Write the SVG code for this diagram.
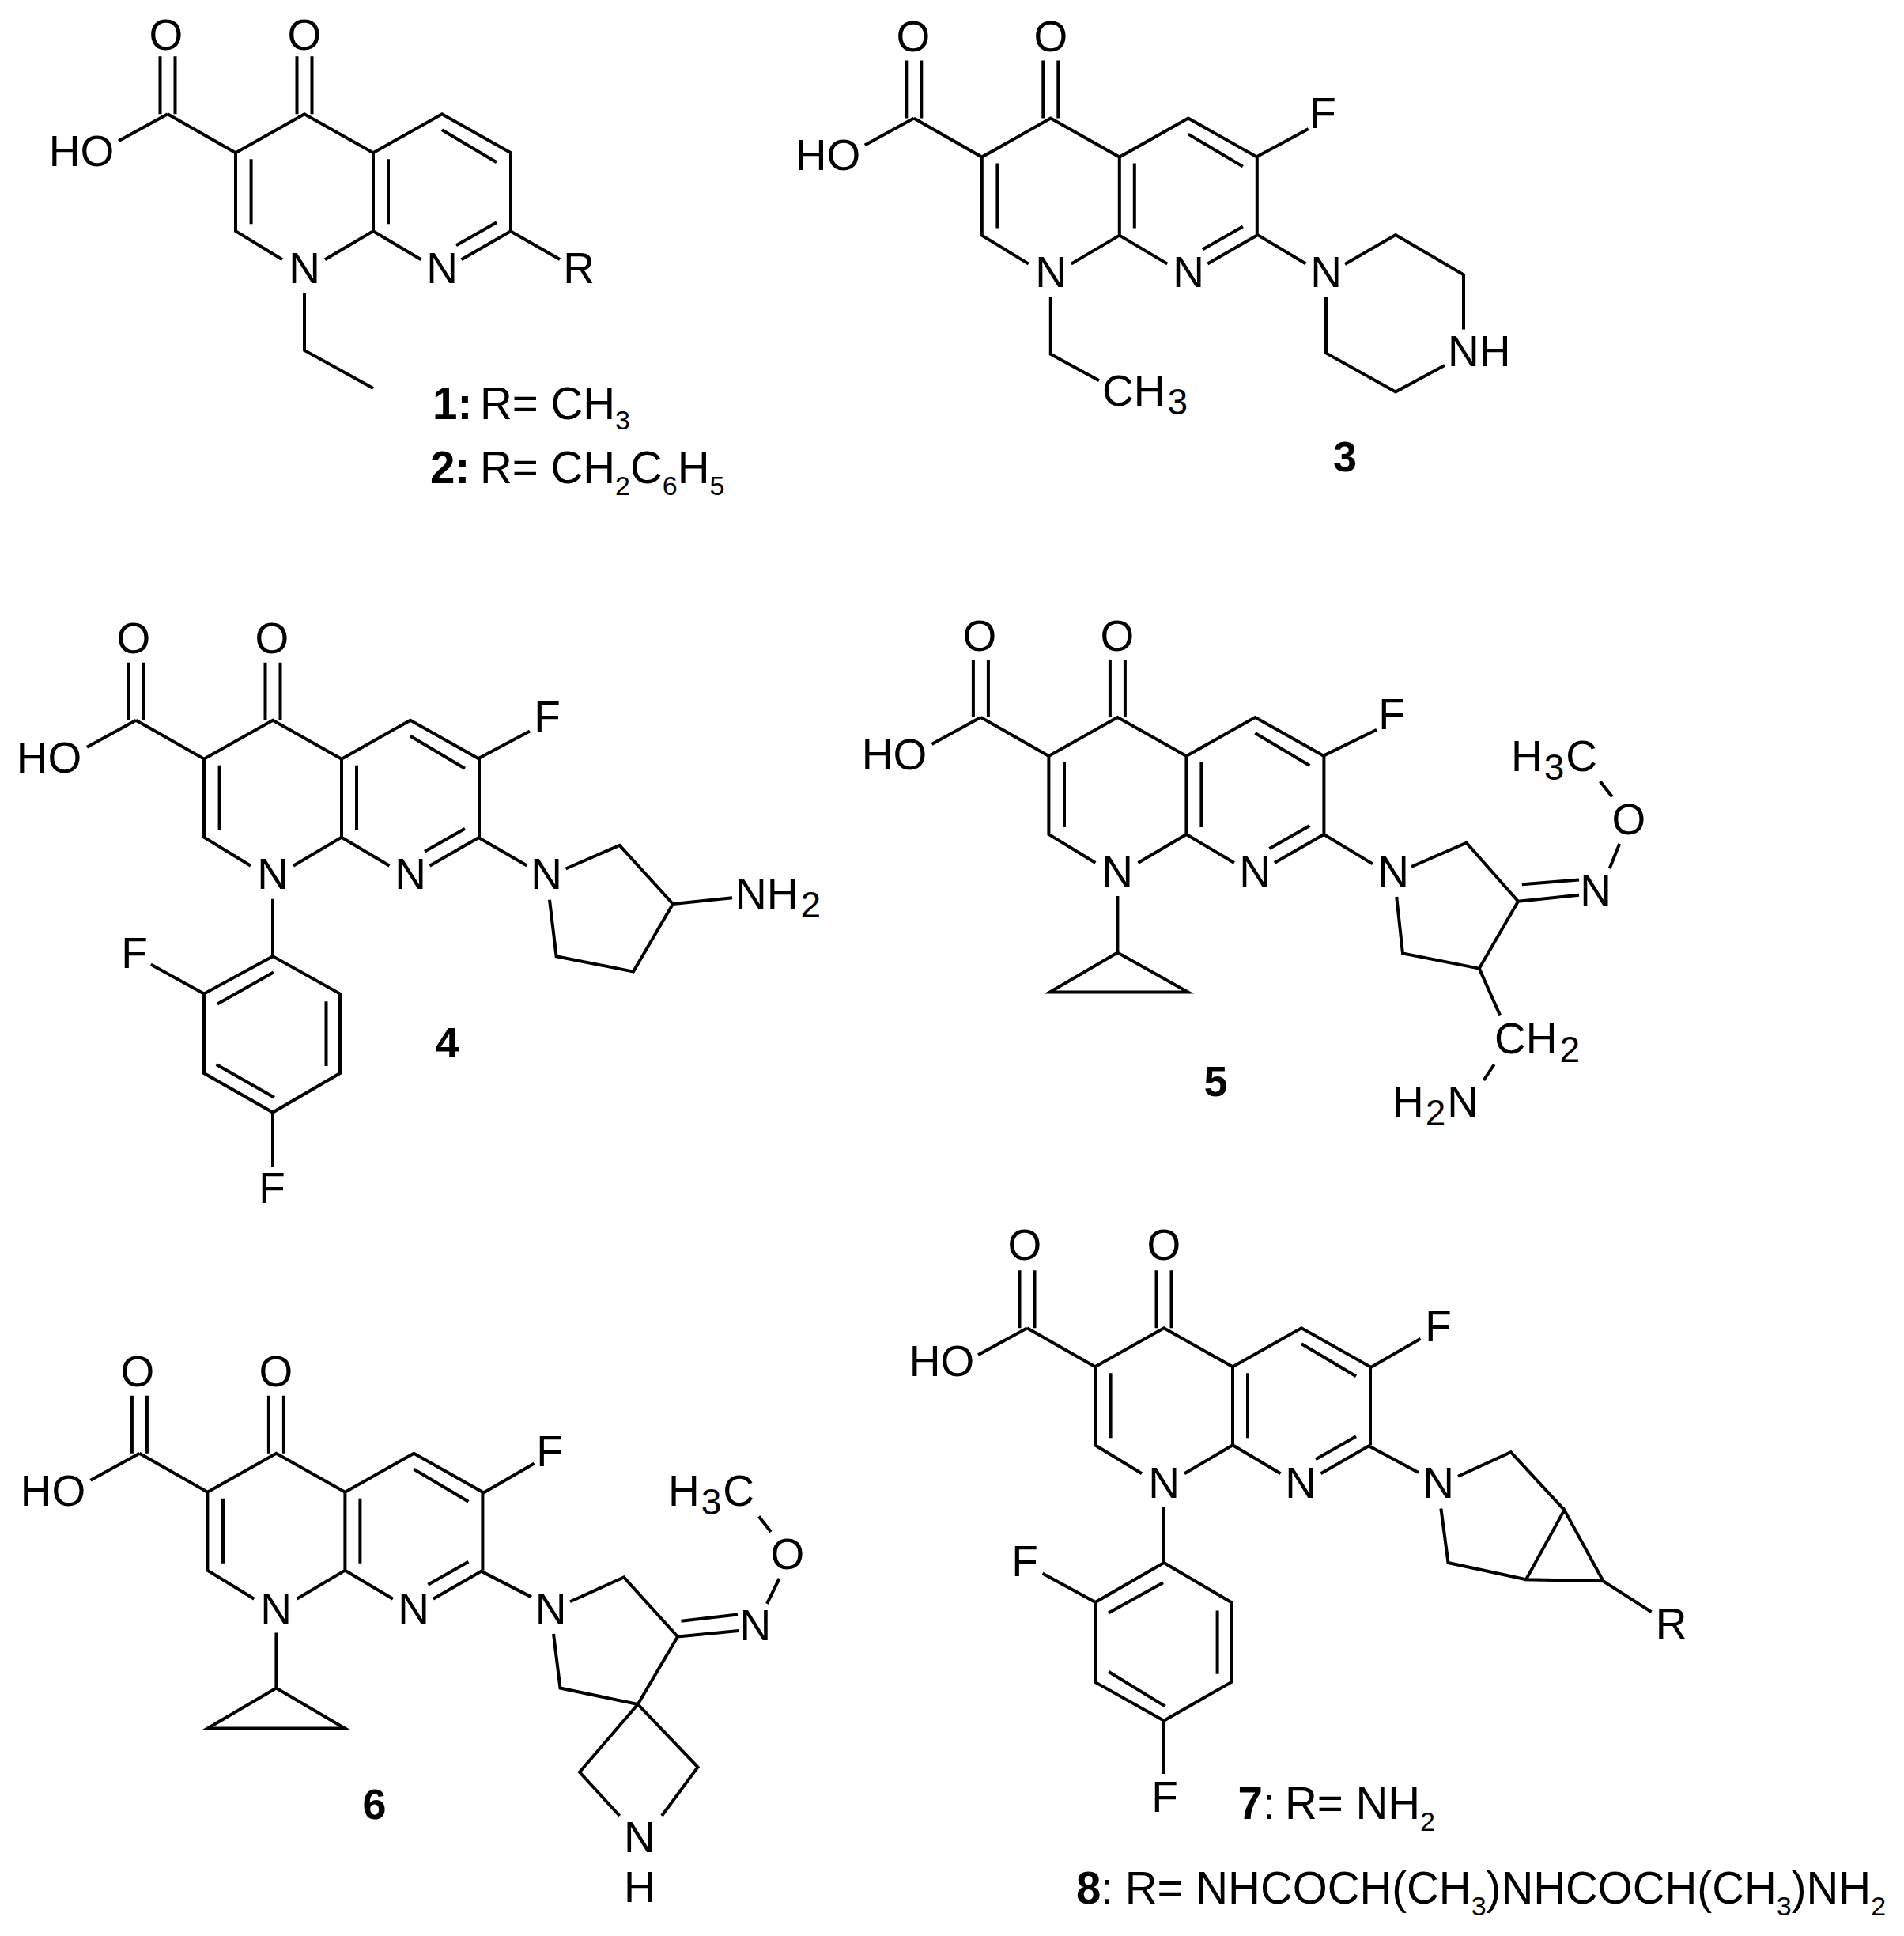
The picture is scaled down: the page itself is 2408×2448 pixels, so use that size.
<svg xmlns="http://www.w3.org/2000/svg" width="2408" height="2448" viewBox="0 0 2408 2448">
<style>
text{font-family:"Liberation Sans",Arial,sans-serif;fill:#000}
.a{font-size:55px;text-anchor:middle}
.l{font-size:55px}
.s{font-size:46px}
.t{font-size:56.500px}
.u{font-size:34px}
.b{font-weight:bold}
.n{font-size:54px;font-weight:bold;text-anchor:middle}
.bonds{fill:none;stroke:#000;stroke-width:4;stroke-linecap:butt;stroke-linejoin:miter}
</style>
<defs>
<path id="core" d="M-173 0L-87 49L0 0L87 49L174 0L261 49V148M-87 49V148L-28 184M87 49V148L26 184M87 148L147.500 184M198.500 184L261 148M192 166L243 137M-67.400 57V139M106 57V139M174 20L243 61M-173 0L-235 34M-182.500 -73V0M-163.500 -73V0M-9.500 -73V0M9.500 -73V0"/>
</defs>
<rect width="2408" height="2448" fill="#fff"/>

<g id="compound-1">
<use href="#core" class="bonds" transform="translate(385 144.200)"/>
<path class="bonds" d="M646 292.400L708 328M385 370.500V442.900L472 491"/>
<text class="a" x="210" y="63">O</text><text class="a" x="385" y="63">O</text>
<text class="a" x="103" y="210">HO</text>
<text class="a" x="385" y="358">N</text><text class="a" x="559" y="358">N</text><text class="a" x="732" y="358">R</text>
<text class="t" x="547" y="530"><tspan class="b">1:</tspan><tspan x="607">R= CH</tspan><tspan class="u" dy="13">3</tspan></text>
<text class="t" x="544" y="611"><tspan class="b">2:</tspan><tspan x="607">R= CH</tspan><tspan class="u" dy="15">2</tspan><tspan dy="-15">C</tspan><tspan class="u" dy="15">6</tspan><tspan dy="-15">H</tspan><tspan class="u" dy="15">5</tspan></text>
</g>

<g id="compound-3">
<use href="#core" class="bonds" transform="translate(1328.800 149.600)"/>
<path class="bonds" d="M1590.300 197.800L1654.700 163M1590.300 296.900L1651.500 333.500M1701 334L1765 297L1851 347.300V416.500M1677 375V446.400L1765 495.500L1827 462M1328.800 375V447.800L1390 481.300"/>
<text class="a" x="1155" y="65">O</text><text class="a" x="1329" y="65">O</text>
<text class="a" x="1047" y="215">HO</text>
<text class="a" x="1329" y="363">N</text><text class="a" x="1503" y="363">N</text><text class="a" x="1677" y="363">N</text>
<text class="a" x="1673" y="162">F</text>
<text class="l" x="1831" y="463">NH</text>
<text class="l" x="1394" y="513.400">CH<tspan class="s" dx="3" dy="11">3</tspan></text>
<text class="n" x="1701" y="596">3</text>
</g>

<g id="compound-4">
<use href="#core" class="bonds" transform="translate(345 910.700)"/>
<path class="bonds" d="M604.700 959.200L670 924.500M604.700 1058.700L666.400 1094.400M715.500 1098.500L783.600 1068.900L851 1142.900L801 1228.600L703.600 1209.200L695 1137.800M851 1142.900L926 1135.200M345 1136.700V1209.200L430 1256.600V1357L345 1406.600L258 1357V1256.600L345 1209.200M275 1269.400L345.800 1229.600M412.500 1266.300V1348M273.600 1346L347 1387.800M258 1256.600L190.800 1219.400M345 1406.600V1475.500"/>
<text class="a" x="169" y="826">O</text><text class="a" x="344" y="826">O</text>
<text class="a" x="62" y="977">HO</text>
<text class="a" x="345" y="1124">N</text><text class="a" x="519" y="1124">N</text><text class="a" x="691" y="1124">N</text>
<text class="a" x="692" y="924.500">F</text>
<text class="l" x="930" y="1149">NH<tspan class="s" dx="3" dy="11">2</tspan></text>
<text class="a" x="170" y="1223.500">F</text><text class="a" x="344" y="1521.400">F</text>
<text class="n" x="565.400" y="1336.700">4</text>
</g>

<g id="compound-5">
<use href="#core" class="bonds" transform="translate(1413.400 907)"/>
<path class="bonds" d="M1674.300 955.400L1741 922.800M1674.300 1055L1736 1092.400M1785 1096L1854.600 1065.600L1920 1139.700L1870.800 1224.600L1774 1205.400L1766.200 1134M1920 1139.700L1997 1131.700M1924.800 1118.300L1997 1112.500M2035.600 1098.200L2048.200 1067M2039 1007.600L2023.700 988M1870.800 1224.600L1897.400 1284.400M1889.700 1346L1876.400 1366M1413.400 1133V1204.500M1413.400 1204.500L1327.800 1254.500H1502.500Z"/>
<text class="a" x="1239" y="823">O</text><text class="a" x="1413" y="823">O</text>
<text class="a" x="1131" y="973">HO</text>
<text class="a" x="1413" y="1120.500">N</text><text class="a" x="1587" y="1120.500">N</text><text class="a" x="1762" y="1120.500">N</text>
<text class="a" x="1760" y="921.900">F</text>
<text class="a" x="2018" y="1145">N</text><text class="a" x="2060" y="1054.500">O</text>
<text class="l" x="1911" y="975.400">H<tspan class="s" dx="2" dy="11">3</tspan><tspan dx="2" dy="-11">C</tspan></text>
<text class="l" x="1890" y="1331.700">CH<tspan class="s" dx="3" dy="11">2</tspan></text>
<text class="l" x="1761" y="1412">H<tspan class="s" dx="2" dy="11">2</tspan><tspan dx="2" dy="-11">N</tspan></text>
<text class="n" x="1537.500" y="1386">5</text>
</g>

<g id="compound-6">
<use href="#core" class="bonds" transform="translate(349.400 1837.700)"/>
<path class="bonds" d="M610.300 1888.200L675.600 1850.400M610.300 1987.600L672 2019.400M721 2025.300L789 1994.400L857 2069.400L806.700 2155L708.500 2134.500L700 2066M857 2069.400L934.400 2062M861.500 2049.800L933 2041.500M970 2027.800L985.600 1996M975 1937L959.700 1917.500M783.600 2296L733 2240.800L806.700 2155L882.500 2234.400L837 2296M349.400 2064.500V2134.500M349.400 2134.500L262.400 2185.500H436.300Z"/>
<text class="a" x="174" y="1753">O</text><text class="a" x="349" y="1753">O</text>
<text class="a" x="67" y="1904">HO</text>
<text class="a" x="349" y="2053.200">N</text><text class="a" x="523" y="2053.200">N</text><text class="a" x="696.600" y="2053.200">N</text>
<text class="a" x="695" y="1853.900">F</text>
<text class="a" x="955.400" y="2074.300">N</text><text class="a" x="996" y="1983.700">O</text>
<text class="l" x="845" y="1904.300">H<tspan class="s" dx="2" dy="11">3</tspan><tspan dx="2" dy="-11">C</tspan></text>
<text class="a" x="808.800" y="2342">N</text><text class="a" x="808.800" y="2405">H</text>
<text class="n" x="473.500" y="2299.600">6</text>
</g>

<g id="compound-7-8">
<use href="#core" class="bonds" transform="translate(1472 1679.300)"/>
<path class="bonds" d="M1731.500 1730.200L1796.500 1692.800M1731.500 1828.600L1794 1862M1844 1866.700L1910.800 1836.200L1978.400 1909.400L1930 1997.200L1831.500 1976L1822.400 1907.600M1978.400 1909.400L2027.600 1999.300L1930 1997.200ZM2027.600 1999.300L2088.500 2038.200M1472 1905.900V1976.100L1557 2025.900V2127.200L1472 2175.800L1385.300 2127.200V2025.900L1472 1976.100M1402 2039.400L1471 2001.300M1539.600 2036.400V2116.700M1402 2113.700L1473.700 2157.600M1385.300 2025.900L1318.500 1989.600M1472 2175.800V2243"/>
<text class="a" x="1296" y="1593">O</text><text class="a" x="1472" y="1593">O</text>
<text class="a" x="1191" y="1740">HO</text>
<text class="a" x="1472" y="1894">N</text><text class="a" x="1645" y="1894">N</text><text class="a" x="1819" y="1894">N</text>
<text class="a" x="1819" y="1695.700">F</text>
<text class="a" x="2113.500" y="2071.600">R</text>
<text class="a" x="1296" y="1992.500">F</text><text class="a" x="1473" y="2291">F</text>
<text class="t" x="1565.500" y="2300"><tspan class="b">7</tspan>:<tspan x="1625">R= NH</tspan><tspan class="u" dy="15">2</tspan></text>
<text class="t" x="1361" y="2407"><tspan class="b">8</tspan>:<tspan x="1422.800">R= NHCOCH(CH</tspan><tspan class="u" dy="15">3</tspan><tspan dy="-15">)NHCOCH(CH</tspan><tspan class="u" dy="15">3</tspan><tspan dy="-15">)NH</tspan><tspan class="u" dy="15">2</tspan></text>
</g>
</svg>
